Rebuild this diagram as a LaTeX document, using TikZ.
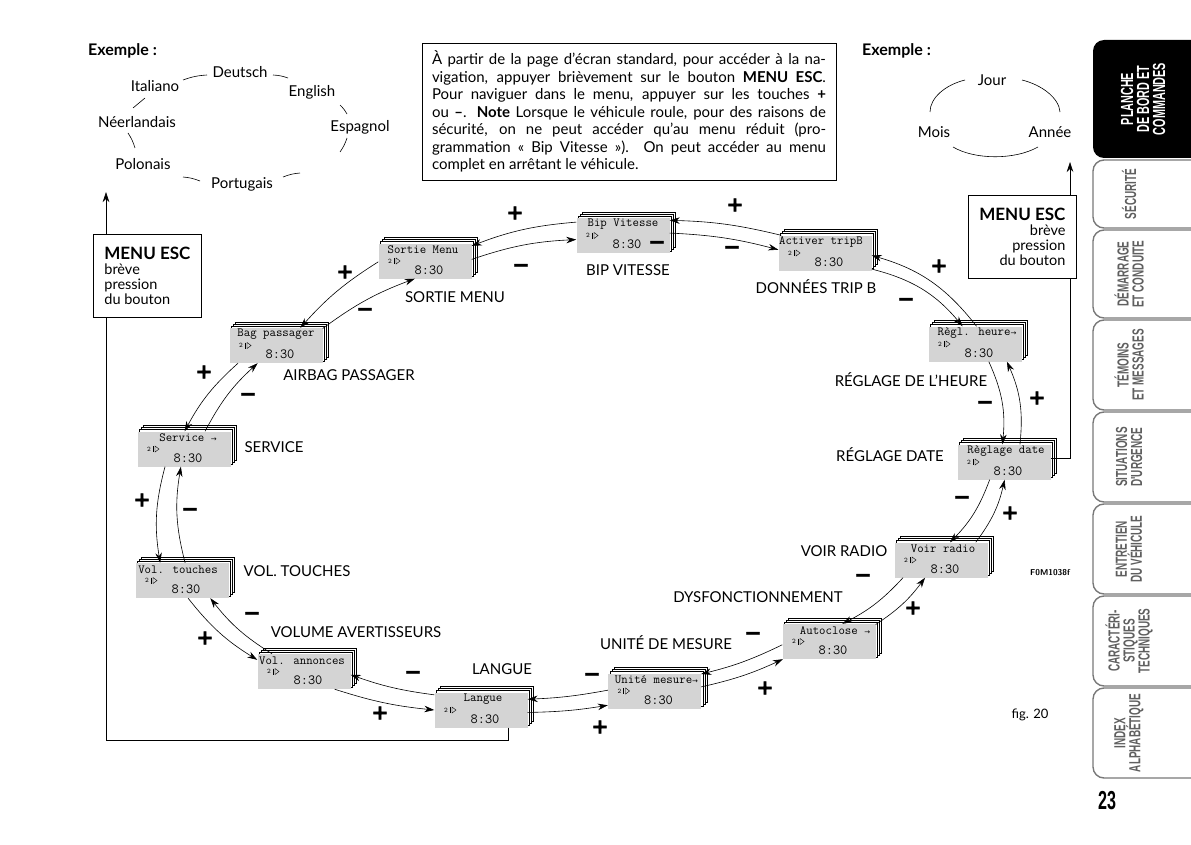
\documentclass[tikz,border=0pt]{standalone}
\usepackage{fontspec}
\setmainfont{Lato}
\newfontfamily\tabfont[FakeStretch=0.62]{Liberation Sans Bold}
\newfontfamily\pmfont[FakeBold=1.5]{DejaVu Sans Bold}
\newfontfamily\djv{DejaVu Sans}
\usetikzlibrary{arrows.meta,calc}
\definecolor{lcdgray}{RGB}{212,212,212}
\definecolor{tabgray}{RGB}{120,120,120}
\definecolor{tabtext}{RGB}{95,95,95}
\newcommand\lar{{\djv\fontsize{7}{7}\selectfont →}}
\newcommand\jl[1]{\makebox[394pt][s]{#1}}
\tikzset{
  lcdstack/.style={draw=black, line width=0.5pt, fill=white},
  lcdface/.style={rectangle, fill=lcdgray, minimum width=93pt, minimum height=35pt, inner sep=0pt},
  lcdtitle/.style={font=\ttfamily\fontsize{12.5}{12.5}\selectfont, inner sep=0pt},
  lcdsmall/.style={font=\ttfamily\fontsize{7}{7}\selectfont, inner sep=0pt},
  lcdtime/.style={font=\ttfamily\fontsize{14}{14}\selectfont, inner sep=0pt},
  lab/.style={font=\fontsize{15}{15}\selectfont, inner sep=0pt},
  lang/.style={font=\fontsize{15}{15}\selectfont, inner sep=0pt},
  pm/.style={font=\pmfont\fontsize{21}{21}\selectfont, inner sep=0pt},
  arr/.style={line width=0.6pt, -{Stealth[length=10pt,width=6.5pt]}},
  thin/.style={line width=0.6pt},
  escbox/.style={draw, line width=0.8pt, minimum width=108pt, minimum height=83pt, inner sep=6pt, font=\fontsize{14.5}{15}\selectfont},
  tabbox/.style={draw=tabgray, line width=1.4pt, fill=white, rounded corners=11pt},
  tabtxt/.style={rotate=90, font=\tabfont\fontsize{16}{15}\selectfont, text=tabtext, align=center, inner sep=0pt},
}
\newcommand\lcd[5]{%
  \foreach \k in {3,2,1}{\draw[lcdstack] (#2-46.5+2*\k,#3-17.5-2*\k) rectangle (#2+46.5+2*\k,#3+17.5-2*\k);}
  \node[lcdface] (#1) at (#2,#3) {};
  \node[lcdtitle] (#1t) at (#2+#5,#3-11) {#4};
  \node[lcdsmall] (#1n) at (#2-35,#3) {2};
  \draw[line width=0.4pt] (#2-31,#3-3) -- (#2-31,#3+3);
  \draw[line width=0.4pt] (#2-29,#3-3) -- (#2-25,#3) -- (#2-29,#3+3) -- cycle;
  \node[lcdtime] (#1h) at (#2+4,#3+9) {8:30};
}
\begin{document}
\begin{tikzpicture}[x=1pt,y=-1pt]
\useasboundingbox (0,0) rectangle (1191,845);

% ---------- side tabs ----------
\foreach \t/\b/\txt/\cy [count=\i] in {
  160/228/{SÉCURITÉ}/194,
  230/318/{DÉMARRAGE\\ET CONDUITE}/274,
  320/410/{TÉMOINS\\ET MESSAGES}/365,
  412/502/{SITUATIONS\\D'URGENCE}/457,
  504/594/{ENTRETIEN\\DU VÉHICULE}/549,
  596/686/{CARACTÉRI-\\STIQUES\\TECHNIQUES}/641,
  688/778/{INDEX\\ALPHABÉTIQUE}/733}{
  \draw[tabbox] (1215,\t) -- (1093,\t) -- (1093,\b) -- (1215,\b);
  \node[tabtxt] (tab\i) at (1129,\cy) {\txt};
}
\fill[black, rounded corners=11pt] (1215,40) -- (1093,40) -- (1093,158) -- (1215,158);
\node[tabtxt, text=white, font=\tabfont\fontsize{17.5}{16}\selectfont] (tab0) at (1143,99) {PLANCHE\\DE BORD ET\\COMMANDES};
\node[font=\tabfont\fontsize{26}{26}\selectfont, inner sep=0pt] (page) at (1107,801) {23};

% ---------- examples ----------
\node[font=\bfseries\fontsize{16}{16}\selectfont, anchor=west, inner sep=0pt] (ex1) at (88,51) {Exemple :};
\node[lang] (de) at (240,72) {Deutsch};
\node[lang] (en) at (312,92) {English};
\node[lang] (es) at (360,127) {Espagnol};
\node[lang] (pt) at (242,184) {Portugais};
\node[lang] (pl) at (143,164) {Polonais};
\node[lang] (nl) at (137,122) {Néerlandais};
\node[lang] (it) at (155,86) {Italiano};
\draw[thin] (183,80) to[bend left=8] (207,75);
\draw[thin] (273,75) to[bend left=8] (288,78);
\draw[thin] (340,105) to[bend left=8] (347,114);
\draw[thin] (347,138) to[bend left=8] (340,152);
\draw[thin] (283,177) to[bend left=8] (300,173);
\draw[thin] (183,177) to[bend left=8] (200,181);
\draw[thin] (128,133) to[bend left=8] (135,148);
\draw[thin] (145,98) to[bend left=0] (133,108);

\node[font=\bfseries\fontsize{16}{16}\selectfont, anchor=west, inner sep=0pt] (ex2) at (862,51) {Exemple :};
\node[lang] (jour) at (992,80) {Jour};
\node[lang] (mois) at (934,132) {Mois};
\node[lang] (annee) at (1050,132) {Année};
\draw[thin] (965,80) .. controls (945,85) and (930,98) .. (930,112);
\draw[thin] (1022,80) .. controls (1042,85) and (1059,98) .. (1060,112);
\draw[thin] (953,147) .. controls (975,160) and (1015,160) .. (1038,147);

% ---------- info box ----------
\node[draw, line width=0.8pt, minimum width=414pt, minimum height=137pt, inner sep=0pt, align=left,
      font=\fontsize{15}{17.5}\selectfont] (info) at (629,111.5) {%
\jl{À partir de la page d’écran standard, pour accéder à la na-}\\
\jl{vigation, appuyer brièvement sur le bouton \textbf{MENU ESC}.}\\
\jl{Pour naviguer dans le menu, appuyer sur les touches \textbf{+}}\\
\jl{ou \textbf{–}. \textbf{Note} Lorsque le véhicule roule, pour des raisons de}\\
\jl{sécurité, on ne peut accéder qu’au menu réduit (pro-}\\
\jl{grammation «~Bip Vitesse~»). On peut accéder au menu}\\
complet en arrêtant le véhicule.};

% ---------- MENU ESC boxes ----------
\node[escbox, align=left, anchor=north west] (escL) at (93,234) {\textbf{\fontsize{17}{17}\selectfont MENU ESC}\\brève\\pression\\du bouton};
\node[escbox, align=right, anchor=north west] (escR) at (968,195) {\textbf{\fontsize{17}{17}\selectfont MENU ESC}\\brève\\pression\\du bouton};

% ---------- displays ----------
\lcd{sortie}{425}{261}{Sortie Menu}{-2}
\lcd{bip}{623}{235.5}{Bip Vitesse}{0}
\lcd{activer}{825}{253}{Activer tripB}{-4}
\lcd{reglh}{975}{344}{Règl. heure\lar}{2}
\lcd{regld}{1004}{462}{Règlage date}{2}
\lcd{radio}{941}{560}{Voir radio}{2}
\lcd{autoc}{829}{641.5}{Autoclose \lar}{6}
\lcd{unite}{654.5}{691}{Unité mesure\lar}{2}
\lcd{langue}{481}{710}{Langue}{2}
\lcd{volann}{304}{671.5}{Vol. annonces}{-2}
\lcd{voltou}{182}{580.5}{Vol. touches}{-4}
\lcd{service}{184}{449}{Service \lar}{4}
\lcd{bag}{276}{345.5}{Bag passager}{0}

% ---------- frame lines ----------
\coordinate (cL) at (106,740);
\coordinate (tipL) at (106,192);
\draw[thin] ([xshift=27pt]langue.south) |- (cL) -- (cL |- escL.south);
\draw[arr] (tipL |- escL.north) -- (tipL);
\coordinate (cR) at (1070,458);
\coordinate (tipR) at (1070,162);
\draw[thin] ([yshift=4pt]regld.east) -- (cR) -- (cR |- escR.south);
\draw[arr] (tipR |- escR.north) -- (tipR);

% ---------- arrows ----------
\draw[arr] (bip.164) to[bend right=8] (sortie.18);
\draw[arr] (sortie.2) to[bend left=8] (bip.185);
\draw[arr] (activer.158) to[bend right=6] (bip.18);
\draw[arr] (bip.3) to[bend left=6] (activer.176);
\draw[arr] (reglh.85) to[bend right=18] (activer.-3);
\draw[arr] (activer.-19) to[bend left=18] (reglh.125);
\draw[arr] (reglh.-52) to[bend left=15] (regld.95);
\draw[arr] (regld.48) to[bend right=15] (reglh.-29);
\draw[arr] (regld.-129) to[bend left=12] (radio.63);
\draw[arr] (radio.27) to[bend right=12] (regld.-88);
\draw[arr] (radio.-155) to[bend left=10] (autoc.53);
\draw[arr] (autoc.20) to[bend right=10] (radio.-132);
\draw[arr] (autoc.184) to[bend left=6] (unite.20);
\draw[arr] (unite.5) to[bend right=6] (autoc.-159);
\draw[arr] (unite.179) to[bend left=4] (langue.13);
\draw[arr] (langue.-3) to[bend right=4] (unite.-163);
\draw[arr] (langue.162) to[bend left=6] (volann.-4);
\draw[arr] (volann.-30) to[bend right=6] (langue.180);
\draw[arr] (volann.151) to[bend left=10] (voltou.-32);
\draw[arr] (voltou.-71) to[bend right=10] (volann.166);
\draw[arr] (voltou.80) to[bend left=12] (service.-100);
\draw[arr] (service.-137) to[bend right=12] (voltou.141);
\draw[arr] (service.40) to[bend left=10] (bag.-136);
\draw[arr] (bag.-155) to[bend right=10] (service.88);
\draw[arr] (bag.20) to[bend left=8] (sortie.-120);
\draw[arr] (sortie.181) to[bend right=8] (bag.36);

% ---------- plus / minus ----------
\foreach \x/\y/\s [count=\i] in {515/213/+, 521/268/−, 657/245/−, 735/205/+, 732/250/−,
  939/266/+, 906/302/−, 985/405/−, 1037/398/+, 962/500/−, 1010/513/+,
  863/578/−, 913/608/+, 753/636/−, 765/688/+, 592/677/−, 600/727/+,
  413/675/−, 380/713/+, 252/616/−, 205/638/+, 142/500/+, 190/512/−,
  204/372/+, 248/397/−, 345/272/+, 365/312/−}{
  \node[pm] (pm\i) at (\x,\y) {\s};
}

% ---------- labels ----------
\foreach \x/\y/\t [count=\i] in {455/297/SORTIE MENU, 628/270/BIP VITESSE, 816/287/DONNÉES TRIP B,
  911/380/RÉGLAGE DE L'HEURE, 890/455/RÉGLAGE DATE, 844/551/VOIR RADIO,
  758/597/DYSFONCTIONNEMENT, 666/643/UNITÉ DE MESURE, 502/669/LANGUE,
  356/632/VOLUME AVERTISSEURS, 297/571/VOL. TOUCHES, 274/447/SERVICE, 349/375/AIRBAG PASSAGER}{
  \node[lab] (lab\i) at (\x,\y) {\t};
}

\node[font=\sffamily\bfseries\fontsize{8.5}{8.5}\selectfont, inner sep=0pt] (code) at (1050,573) {F0M1038f};
\node[font=\fontsize{13}{13}\selectfont, inner sep=0pt] (fig) at (1030,715) {fig. 20};
\end{tikzpicture}
\end{document}
